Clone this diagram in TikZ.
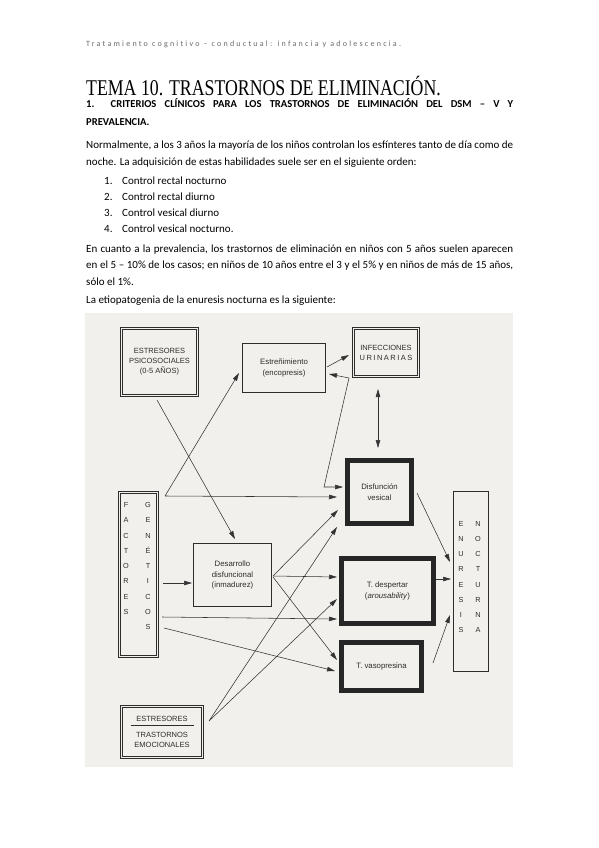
\documentclass[tikz,border=0pt]{standalone}
\usepackage{fontspec}
\usepackage{graphicx}
\setmainfont{Carlito}
\newfontfamily\titlefont{Liberation Serif}
\newfontfamily\diafont{Liberation Sans}
\newfontfamily\headerfont[LetterSpace=28,Ligatures=NoCommon]{Carlito}
\usetikzlibrary{arrows.meta,calc}
\definecolor{bgscan}{RGB}{242,240,237}
\definecolor{ink}{RGB}{45,45,45}
\definecolor{hdr}{RGB}{105,105,105}
\begin{document}
\begin{tikzpicture}[x=1pt,y=-1pt,
  dtext/.style={font=\diafont\fontsize{7.5}{10}\selectfont, text=ink, align=center},
  ltext/.style={font=\diafont\fontsize{7.8}{10.5}\selectfont},
  thinbox/.style={draw=ink, line width=0.7pt, inner sep=0pt, dtext},
  dblbox/.style={draw=ink, line width=1.3pt, inner sep=0pt, dtext},
  heavybox/.style={draw=black!85, line width=4.8pt, inner sep=0pt, dtext},
  innerline/.style={draw=ink, line width=0.6pt},
  letters/.style={font=\diafont\fontsize{7.3}{15.25}\selectfont, text=ink, align=center, inner sep=0pt},
  arr/.style={draw=black!80, line width=0.55pt, -{Triangle[length=8pt,width=4.5pt]}},
  darr/.style={draw=black!80, line width=0.55pt, {Triangle[length=8pt,width=4.5pt]}-{Triangle[length=8pt,width=4.5pt]}},
  body/.style={anchor=base west, inner sep=0pt, font=\fontsize{11}{13}\selectfont},
  hbody/.style={anchor=base west, inner sep=0pt, font=\bfseries\fontsize{10.6}{12}\selectfont}]
\useasboundingbox (0,0) rectangle (599,848);
\fill[white] (0,0) rectangle (599,848);

% ---------- page text ----------
\node[anchor=base west, inner sep=0pt, text=hdr, font=\headerfont\fontsize{8}{9}\selectfont] (hdr) at (86,47) {Tratamiento cognitivo – conductual: infancia y adolescencia.};
\node[anchor=base west, inner sep=0pt] (title) at (86,96) {\scalebox{0.79}[1]{\titlefont\fontsize{22.5}{26}\selectfont TEMA 10. TRASTORNOS DE ELIMINACIÓN.}};
\node[hbody] (h1a) at (86,108) {\makebox[427pt][s]{1.\ \ CRITERIOS CLÍNICOS PARA LOS TRASTORNOS DE ELIMINACIÓN DEL DSM – V Y}};
\node[hbody] (h1b) at (86,125) {PREVALENCIA.};
\node[body] (p1a) at (86,149) {\makebox[427pt][s]{Normalmente, a los 3 años la mayoría de los niños controlan los esfínteres tanto de día como de}};
\node[body] (p1b) at (86,165) {noche. La adquisición de estas habilidades suele ser en el siguiente orden:};
\node[body] (n1) at (104,184) {1.};
\node[body] (l1) at (122,184) {Control rectal nocturno};
\node[body] (n2) at (104,200) {2.};
\node[body] (l2) at (122,200) {Control rectal diurno};
\node[body] (n3) at (104,216) {3.};
\node[body] (l3) at (122,216) {Control vesical diurno};
\node[body] (n4) at (104,232) {4.};
\node[body] (l4) at (122,232) {Control vesical nocturno.};
\node[body] (p2a) at (86,252) {\makebox[427pt][s]{En cuanto a la prevalencia, los trastornos de eliminación en niños con 5 años suelen aparecen}};
\node[body] (p2b) at (86,268) {\makebox[427pt][s]{en el 5 – 10\% de los casos; en niños de 10 años entre el 3 y el 5\% y en niños de más de 15 años,}};
\node[body] (p2c) at (86,285) {sólo el 1\%.};
\node[body] (p3) at (86,303) {La etiopatogenia de la enuresis nocturna es la siguiente:};

% ---------- diagram ----------
\fill[bgscan] (85,313) rectangle (513,767);

\node[dblbox, minimum width=77.7pt, minimum height=68.7pt] (ps) at (159.5,362) {ESTRESORES\\PSICOSOCIALES\\(0-5 AÑOS)};
\node[thinbox, minimum width=83.3pt, minimum height=49.3pt, ltext] (es) at (284,368) {Estreñimiento\\(encopresis)};
\node[dblbox, minimum width=66.7pt, minimum height=49.7pt] (iu) at (386,352.5) {INFECCIONES\\{\addfontfeature{LetterSpace=20}URINARIAS}};
\node[heavybox, minimum width=64.2pt, minimum height=63.2pt, ltext] (dv) at (379.5,492) {Disfunción\\vesical};
\node[dblbox, minimum width=39.7pt, minimum height=165.7pt] (fg) at (138.5,574.5) {};
\node[thinbox, minimum width=78.3pt, minimum height=63.3pt, ltext] (dd) at (232.5,575) {Desarrollo\\disfuncional\\(inmadurez)};
\node[heavybox, minimum width=92.2pt, minimum height=65.2pt, ltext] (td) at (387.5,591) {T. despertar\\(\textit{arousability})};
\node[heavybox, minimum width=80.2pt, minimum height=48.2pt, ltext] (tv) at (381.5,666.5) {T. vasopresina};
\node[thinbox, minimum width=35.3pt, minimum height=180.3pt] (en) at (471,581.5) {};
\node[dblbox, minimum width=82.7pt, minimum height=52.7pt] (em) at (162,732) {ESTRESORES\\[-5.5pt]\rule{63pt}{0.6pt}\\[1.5pt]TRASTORNOS\\EMOCIONALES};

\foreach \n in {ps,iu,fg,em}
  \draw[innerline] ([shift={(2.7,2.7)}]\n.north west) rectangle ([shift={(-2.7,-2.7)}]\n.south east);

\node[letters] (fgA) at (126,558.5) {F\\A\\C\\T\\O\\R\\E\\S};
\node[letters] (fgB) at (148,566) {G\\E\\N\\É\\T\\I\\C\\O\\S};
\node[letters] (enA) at (461,577) {E\\N\\U\\R\\E\\S\\I\\S};
\node[letters] (enB) at (478,577) {N\\O\\C\\T\\U\\R\\N\\A};

% connectors
\draw[arr] ([shift={(-2.5,3)}]ps.south) -- ([shift={(2.5,-4)}]dd.north);
\draw[arr] ([shift={(6,5)}]fg.north east) -- ([shift={(-3,5)}]es.west);
\draw[arr] ([shift={(6,5)}]fg.north east) -- ([shift={(-8,5)}]dv.west);
\draw[arr] ([shift={(1,-1)}]es.east) -- ([shift={(-3,2.5)}]iu.west);
\draw[darr] ([shift={(3,6)}]es.east) -- ([shift={(-3,0)}]iu.south west) -- ([shift={(-21,-5)}]dv.west) -- ([shift={(-2,-5)}]dv.west);
\draw[darr] ([shift={(-8,11)}]iu.south) -- ([shift={(-1.5,-10)}]dv.north);
\draw[arr] ([shift={(4,8.5)}]fg.east) -- ([shift={(-1,8)}]dd.west);
\draw[arr] ([shift={(3,42.5)}]fg.east) -- ([shift={(-2,28)}]td.west);
\draw[arr] ([shift={(5,53.5)}]fg.east) -- ([shift={(-4,4.5)}]tv.west);
\draw[arr] ([shift={(1,1)}]dd.east) -- ([shift={(-7,18)}]dv.west);
\draw[arr] ([shift={(1,1)}]dd.east) -- ([shift={(-2,-14)}]td.west);
\draw[arr] ([shift={(1,2)}]dd.east) -- ([shift={(-2,-6.5)}]tv.west);
\draw[arr] ([shift={(5,-11)}]em.east) -- ([shift={(-8,35)}]dv.west);
\draw[arr] ([shift={(5,-11)}]em.east) -- ([shift={(-2,8)}]td.west);
\draw[arr] ([shift={(3,1)}]dv.east) -- ([shift={(-3,-19.5)}]en.west);
\draw[arr] ([shift={(0,-12)}]td.east) -- ([shift={(-2,-2.5)}]en.west);
\draw[arr] ([shift={(9,-3.5)}]tv.east) -- ([shift={(-3,33.5)}]en.west);
\end{tikzpicture}
\end{document}
